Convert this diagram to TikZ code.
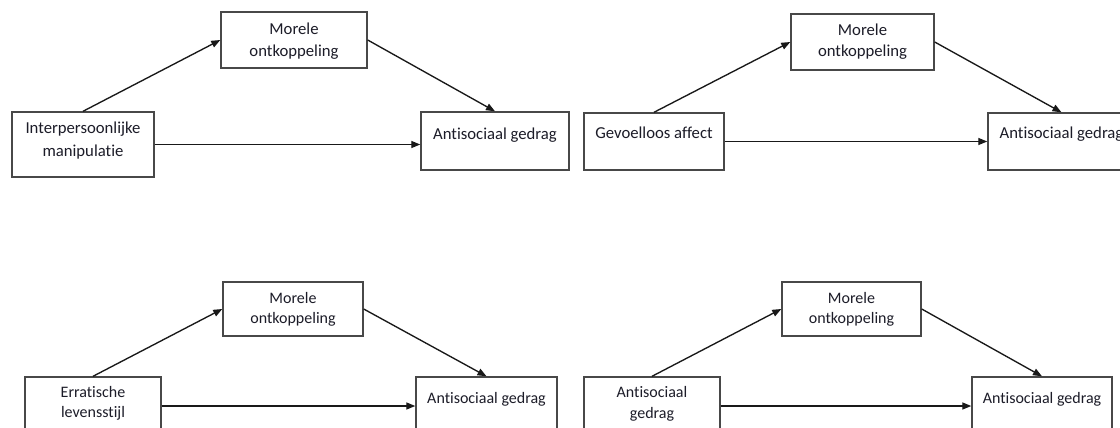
\documentclass[tikz,border=0pt]{standalone}
\usepackage{fontspec}
\setmainfont{Carlito}[Ligatures={NoCommon}]
\usetikzlibrary{arrows.meta}
\definecolor{boxgray}{HTML}{484848}
\definecolor{txt}{HTML}{1C1C28}
\begin{document}
\begin{tikzpicture}[x=1pt,y=-1pt,
  box/.style={draw=boxgray, line width=1.4pt, inner sep=0pt},
  conn/.style={draw=black!90, line width=1.35pt, -{Triangle[length=9pt,width=7pt]}},
  big/.style={anchor=base, inner sep=0pt, text=txt, font=\fontsize{16.7}{22.5}\selectfont},
  small/.style={anchor=base, inner sep=0pt, text=txt, font=\fontsize{16}{20.5}\selectfont}]
\useasboundingbox (0,0) rectangle (1120,428);
\fill[white] (0,0) rectangle (1120,428);
\clip (0,0) rectangle (1120,428);

% ---------- Panel 1 ----------
\node[box, minimum width=142pt, minimum height=65pt] (A1) at (83,144.5) {};
\node[box, minimum width=146pt, minimum height=56pt] (M1) at (294,40) {};
\node[box, minimum width=148pt, minimum height=58pt] (B1) at (495,141) {};
\node[big] (tA1) at (83,133.5) {\begin{tabular}[t]{@{}c@{}}Interpersoonlijke\\manipulatie\end{tabular}};
\node[big] (tM1) at (294,34.3) {\begin{tabular}[t]{@{}c@{}}Morele\\ontkoppeling\end{tabular}};
\node[big] (tB1) at (495,139.5) {Antisociaal gedrag};
\draw[conn] (A1.north) -- (M1.west);
\draw[conn] (M1.east) -- (B1.north);
\draw[conn] (A1.east) -- (A1.east -| B1.west);

% ---------- Panel 2 ----------
\node[box, minimum width=140pt, minimum height=57pt] (A2) at (654,141.5) {};
\node[box, minimum width=143pt, minimum height=56pt] (M2) at (862.5,42) {};
\node[box, minimum width=147pt, minimum height=57pt] (B2) at (1061.5,141.5) {};
\node[big] (tA2) at (654,139) {Gevoelloos affect};
\node[big] (tM2) at (862.5,35.5) {\begin{tabular}[t]{@{}c@{}}Morele\\[-1.5pt]ontkoppeling\end{tabular}};
\node[big] (tB2) at (1061.5,138.5) {Antisociaal gedrag};
\draw[conn] (A2.north) -- (M2.west);
\draw[conn] (M2.east) -- (B2.north);
\draw[conn] (A2.east) -- (A2.east -| B2.west);

% ---------- Panel 3 ----------
\node[box, minimum width=136pt, minimum height=58pt] (A3) at (93,406) {};
\node[box, minimum width=140pt, minimum height=54pt] (M3) at (293,309) {};
\node[box, minimum width=141pt, minimum height=58pt] (B3) at (486.5,406) {};
\node[small] (tA3) at (93,397) {\begin{tabular}[t]{@{}c@{}}Erratische\\levensstijl\end{tabular}};
\node[small] (tM3) at (293,303.3) {\begin{tabular}[t]{@{}c@{}}Morele\\ontkoppeling\end{tabular}};
\node[small] (tB3) at (486.5,403) {Antisociaal gedrag};
\draw[conn] (A3.north) -- (M3.west);
\draw[conn] (M3.east) -- (B3.north);
\draw[conn] (A3.east) -- (A3.east -| B3.west);

% ---------- Panel 4 ----------
\node[box, minimum width=136pt, minimum height=58pt] (A4) at (652,406) {};
\node[box, minimum width=139pt, minimum height=54pt] (M4) at (851.5,309) {};
\node[box, minimum width=140pt, minimum height=58pt] (B4) at (1042,406) {};
\node[small] (tA4) at (652,397.5) {\begin{tabular}[t]{@{}c@{}}Antisociaal\\gedrag\end{tabular}};
\node[small] (tM4) at (851.5,303.3) {\begin{tabular}[t]{@{}c@{}}Morele\\ontkoppeling\end{tabular}};
\node[small] (tB4) at (1042,403) {Antisociaal gedrag};
\draw[conn] (A4.north) -- (M4.west);
\draw[conn] (M4.east) -- (B4.north);
\draw[conn] (A4.east) -- (A4.east -| B4.west);
\end{tikzpicture}
\end{document}
